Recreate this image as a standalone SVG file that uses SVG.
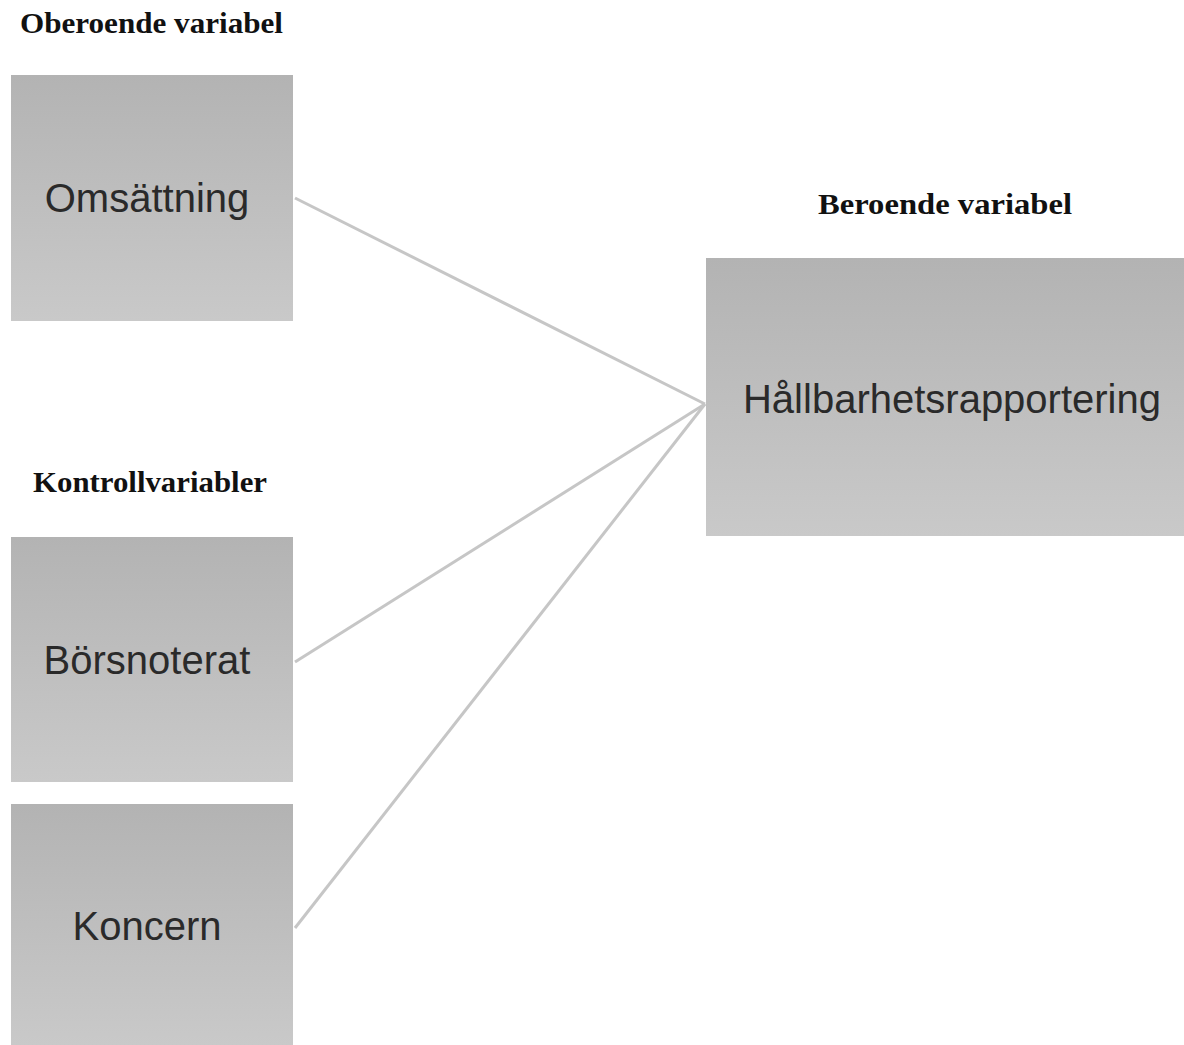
<svg xmlns="http://www.w3.org/2000/svg" width="1184" height="1045" viewBox="0 0 1184 1045">
<defs>
<linearGradient id="g" x1="0" y1="0" x2="0" y2="1">
<stop offset="0" stop-color="#b3b3b3"/>
<stop offset="1" stop-color="#c9c9c9"/>
</linearGradient>
<style>
.box{fill:url(#g);}
.lbl{font-family:"Liberation Sans",Arial,sans-serif;font-size:40px;fill:#2a2a2a;text-anchor:middle;}
.hdr{font-family:"Liberation Serif","Times New Roman",serif;font-size:29px;font-weight:bold;fill:#111;}
.conn{stroke:#c6c6c6;stroke-width:3;fill:none;}
</style>
</defs>
<rect width="1184" height="1045" fill="#fff"/>
<text class="hdr" x="20" y="33" textLength="263" lengthAdjust="spacingAndGlyphs">Oberoende variabel</text>
<text class="hdr" x="818" y="214" textLength="254" lengthAdjust="spacingAndGlyphs">Beroende variabel</text>
<text class="hdr" x="33" y="492" textLength="234" lengthAdjust="spacingAndGlyphs">Kontrollvariabler</text>
<g id="connectors">
<line class="conn" x1="295" y1="198" x2="705" y2="404"/>
<line class="conn" x1="295" y1="662" x2="705" y2="404"/>
<line class="conn" x1="295" y1="928" x2="705" y2="404"/>
</g>
<g id="omsattning">
<rect class="box" x="11" y="75" width="282" height="246"/>
<text class="lbl" x="147" y="212">Omsättning</text>
</g>
<g id="borsnoterat">
<rect class="box" x="11" y="537" width="282" height="245"/>
<text class="lbl" x="147" y="674">Börsnoterat</text>
</g>
<g id="koncern">
<rect class="box" x="11" y="804" width="282" height="241"/>
<text class="lbl" x="147" y="940">Koncern</text>
</g>
<g id="hallbarhet">
<rect class="box" x="706" y="258" width="478" height="278"/>
<text class="lbl" x="952" y="413">Hållbarhetsrapportering</text>
</g>
</svg>
